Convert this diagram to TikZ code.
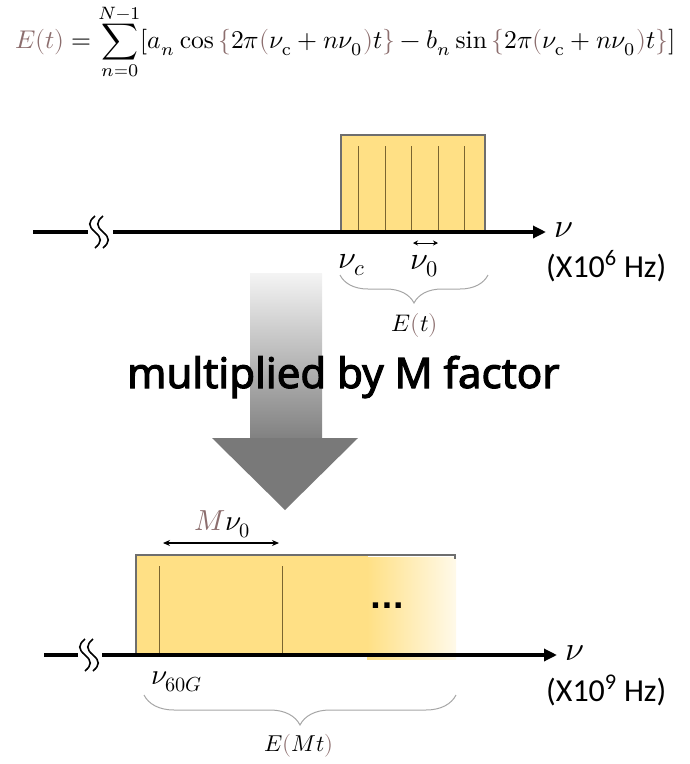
\documentclass[tikz,border=0pt]{standalone}
\usepackage{fontspec}
\usepackage{unicode-math}
\setmathfont{Latin Modern Math}
\newfontfamily\labelfont{Carlito}
\newfontfamily\captfont[FakeBold=2.5]{Noto Sans}
\newfontfamily\dotfont{DejaVu Sans}
\usetikzlibrary{arrows.meta,decorations.pathreplacing}
\definecolor{bandfill}{HTML}{FFE085}
\definecolor{bandedge}{HTML}{6E6E6E}
\definecolor{brn}{HTML}{8C6E6E}
\definecolor{combcol}{HTML}{7A6530}
\definecolor{bracecol}{HTML}{A6A6A6}
\definecolor{arrowtop}{HTML}{F4F4F4}
\definecolor{arrowbot}{HTML}{808080}
\definecolor{arrowhead}{HTML}{797979}
\newcommand{\br}[1]{{\color{brn}#1}}
\tikzset{
  axisline/.style={line width=3.2pt,black},
  axisarrow/.style={line width=3.2pt,black,-{Triangle[length=13pt,width=12pt]}},
  squig/.style={line width=1.6pt,black},
  bandbox/.style={fill=bandfill,draw=bandedge,line width=2pt},
  combline/.style={combcol,line width=0.9pt},
  spanarrow/.style={line width=1.1pt,{Stealth[length=7pt,width=6pt]}-{Stealth[length=7pt,width=6pt]}},
  bracepath/.style={bracecol,line width=1pt,decorate,decoration={brace,amplitude=#1,aspect=0.5}},
  lbl/.style={inner sep=0pt},
}
\begin{document}
\begin{tikzpicture}[x=1pt,y=-1pt]
\useasboundingbox (0,0) rectangle (690,764);

% formula
\node[lbl,anchor=west] (formula) at (15,42) {\resizebox{660pt}{!}{$\displaystyle \br{E(t)}=\sum_{n=0}^{N-1}[a_n\cos\br{\{}2\pi\br{(}\nu_{\mathrm{c}}+n\nu_0\br{)}t\br{\}}-b_n\sin\br{\{}2\pi\br{(}\nu_{\mathrm{c}}+n\nu_0\br{)}t\br{\}}]$}};

% ---------- top spectrum ----------
\node[bandbox,minimum width=144pt,minimum height=97pt,anchor=north west,inner sep=0pt] (topband) at (340,134) {};
\foreach \xx in {358,385,411,438,464}{\draw[combline] (\xx,146) -- (\xx,231);}
\coordinate (a1s) at (33,232);
\coordinate (a1b) at (88,232);
\coordinate (a1c) at (113,232);
\coordinate (a1e) at (546,232);
\draw[axisline] (a1s) -- (a1b);
\draw[axisarrow] (a1c) -- (a1e);
\foreach \xo in {95,103}{
  \draw[squig] (\xo,216) .. controls (\xo-7,222) and (\xo-7,226) .. (\xo,232) .. controls (\xo+7,238) and (\xo+7,242) .. (\xo,248);
}
\node[lbl,anchor=west] (nu1) at (554,230) {\fontsize{34}{34}\selectfont$\nu$};
\node[lbl,anchor=base west] (unit1) at (546,277) {\fontsize{32}{32}\selectfont\labelfont (X10\textsuperscript{6} Hz)};
\node[lbl,anchor=base west] (nuc) at (338,268) {\fontsize{32}{32}\selectfont$\nu_c$};
\node[lbl,anchor=base west] (nu0) at (410,269) {\fontsize{32}{32}\selectfont$\nu_0$};
\coordinate (d0a) at (413,243);
\coordinate (d0b) at (438,243);
\draw[line width=1pt,{Stealth[length=5pt,width=5pt]}-{Stealth[length=5pt,width=5pt]}] (d0a) -- (d0b);
\coordinate (b1l) at (340,275);
\coordinate (b1r) at (488,275);
\draw[bracepath=28pt] (b1r) -- (b1l);
\node[lbl] (et) at (415,325) {\fontsize{24}{24}\selectfont$E\br{(}t\br{)}$};

% ---------- big gray arrow ----------
\shade[top color=arrowtop,bottom color=arrowbot] (250,273) rectangle (322,440);
\fill[arrowhead] (212,438) -- (358,438) -- (285,510) -- cycle;
\node[lbl,anchor=base west] (caption) at (127,388) {\fontsize{42}{42}\selectfont\captfont multiplied by M factor};

% ---------- bottom spectrum ----------
\fill[bandfill] (136,555) rectangle (368,655);
\shade[left color=bandfill,right color=bandfill!18!white] (367,557) rectangle (456,659);
\draw[bandedge,line width=2pt] (136,655) -- (136,555) -- (455,555) -- (455,559);
\foreach \xx in {159,282}{\draw[combline] (\xx,566) -- (\xx,655);}
\node[lbl] (dots) at (387,606) {\fontsize{30}{30}\selectfont\dotfont\bfseries ...};
\coordinate (a2s) at (44,655);
\coordinate (a2b) at (78,655);
\coordinate (a2c) at (102,655);
\coordinate (a2e) at (557,655);
\draw[axisline] (a2s) -- (a2b);
\draw[axisarrow] (a2c) -- (a2e);
\foreach \xo in {85,93}{
  \draw[squig] (\xo,639) .. controls (\xo-7,645) and (\xo-7,649) .. (\xo,655) .. controls (\xo+7,661) and (\xo+7,665) .. (\xo,671);
}
\node[lbl,anchor=west] (nu2) at (565,653) {\fontsize{34}{34}\selectfont$\nu$};
\node[lbl,anchor=base west] (unit2) at (546,701) {\fontsize{32}{32}\selectfont\labelfont (X10\textsuperscript{9} Hz)};
\node[lbl,anchor=base west] (nu60) at (151,684) {\fontsize{29}{29}\selectfont$\nu_{60G}$};
\node[lbl,anchor=base west] (mnu) at (194,530) {\fontsize{29}{29}\selectfont$\br{M}\nu_0$};
\coordinate (dma) at (163,543);
\coordinate (dmb) at (279,543);
\draw[spanarrow] (dma) -- (dmb);
\coordinate (b2l) at (144,695);
\coordinate (b2r) at (456,695);
\draw[bracepath=30pt] (b2r) -- (b2l);
\node[lbl] (emt) at (299,746) {\fontsize{23}{23}\selectfont$E\br{(}Mt\br{)}$};
\end{tikzpicture}
\end{document}
